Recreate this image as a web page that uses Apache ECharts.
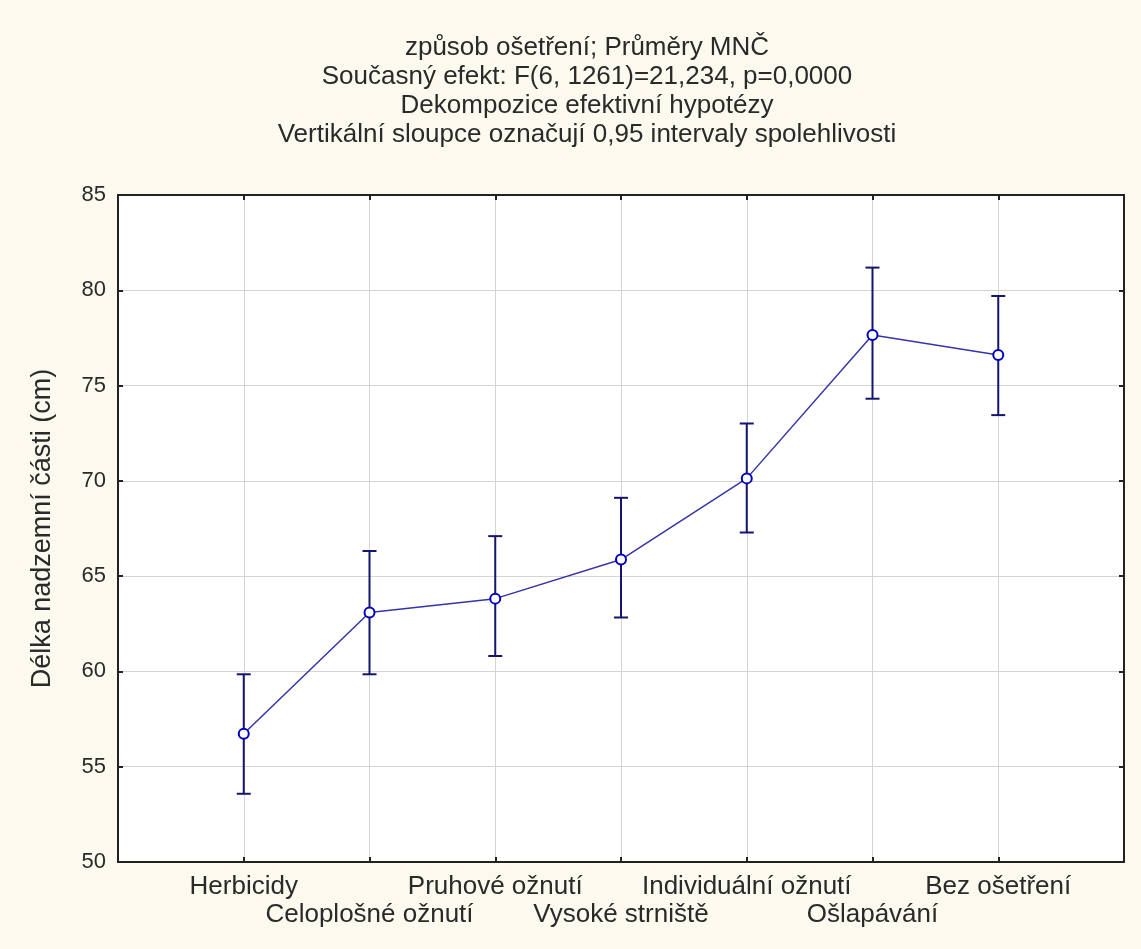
<!DOCTYPE html>
<html><head><meta charset="utf-8">
<script src="https://cdn.jsdelivr.net/npm/echarts@6/dist/echarts.min.js"></script>
<style>html,body{margin:0;padding:0;background:#fcf9ef;}#c{width:1141px;height:949px;}</style>
</head><body><div id="c"></div>
<script>
const categories = ['Herbicidy','Celoplošné ožnutí','Pruhové ožnutí','Vysoké strniště','Individuální ožnutí','Ošlapávání','Bez ošetření'];
const means = [56.73, 63.09, 63.82, 65.87, 70.13, 77.65, 76.60];
const ciLow = [53.58, 59.85, 60.81, 62.83, 67.29, 74.31, 73.45];
const ciHigh = [59.85, 66.32, 67.10, 69.11, 73.01, 81.19, 79.70];
const yTicks = [50, 55, 60, 65, 70, 75, 80, 85];
const titleLines = ['způsob ošetření; Průměry MNČ','Současný efekt: F(6, 1261)=21,234, p=0,0000','Dekompozice efektivní hypotézy','Vertikální sloupce označují 0,95 intervaly spolehlivosti'];
const yName = 'Délka nadzemní části (cm)';

const FONT = 'Liberation Sans, Arial, sans-serif';
const chart = echarts.init(document.getElementById('c'), null, {renderer:'canvas'});
// padded slots so the categories sit one step in from each frame edge
const slots = [''].concat(categories, ['']);
const pts = means.map((m,i)=>[i+1, m]);
const bars = means.map((m,i)=>[i+1, ciLow[i], ciHigh[i]]);
const axisLine = {show:true, onZero:false, lineStyle:{color:'#222', width:2}};
const tick = {show:true, inside:true, length:5, lineStyle:{color:'#222', width:2}};
chart.setOption({
  backgroundColor:'#fcf9ef',
  animation:false,
  title:{
    text: titleLines.join('\n'),
    left: 582, top: 28, textAlign:'center',
    textStyle:{fontFamily:FONT, fontSize:26, fontWeight:'normal', color:'#2a2a2a', lineHeight:29}
  },
  grid:{left:118, right:17, top:195, bottom:87, show:true, backgroundColor:'#fff', borderWidth:0, containLabel:false},
  xAxis:[{
    type:'category', data:slots, boundaryGap:false, position:'bottom',
    axisLine, axisTick:{...tick, interval:0},
    splitLine:{show:true, interval:0, lineStyle:{color:'#d4d4d4', width:1}},
    axisLabel:{
      interval:0, hideOverlap:false,
      fontFamily:FONT, fontSize:26, color:'#2a2a2a', margin:11, lineHeight:28,
      formatter:(v, idx)=>{const i=idx-1; if(i<0||i>=categories.length) return ''; return (i%2===0?'':'\n')+categories[i];}
    }
  },{
    type:'category', data:slots, boundaryGap:false, position:'top',
    axisLine, axisTick:{...tick, interval:0}, axisLabel:{show:false}, splitLine:{show:false}
  }],
  yAxis:[{
    type:'value', min:50, max:85, interval:5, position:'left',
    name:yName, nameLocation:'middle', nameGap:62, nameRotate:90,
    nameTextStyle:{fontFamily:FONT, fontSize:27, color:'#2a2a2a'},
    axisLine, axisTick:tick,
    splitLine:{show:true, lineStyle:{color:'#d4d4d4', width:1}},
    axisLabel:{fontFamily:FONT, fontSize:22, color:'#2a2a2a', margin:12, customValues:yTicks, showMinLabel:true, showMaxLabel:true}
  },{
    type:'value', min:50, max:85, interval:5, position:'right',
    axisLine, axisTick:tick, axisLabel:{show:false}, splitLine:{show:false}
  }],
  series:[{
    type:'custom',
    data:bars,
    z:3,
    renderItem:(params, api)=>{
      const x = api.value(0);
      const lo = api.coord([x, api.value(1)]);
      const hi = api.coord([x, api.value(2)]);
      const hw = 7;
      const st = {stroke:'#15156e', lineWidth:2};
      return {type:'group', children:[
        {type:'line', shape:{x1:lo[0], y1:lo[1], x2:hi[0], y2:hi[1]}, style:st},
        {type:'line', shape:{x1:lo[0]-hw, y1:lo[1], x2:lo[0]+hw, y2:lo[1]}, style:st},
        {type:'line', shape:{x1:hi[0]-hw, y1:hi[1], x2:hi[0]+hw, y2:hi[1]}, style:st}
      ]};
    }
  },{
    type:'line',
    data:pts,
    z:4,
    lineStyle:{color:'#3535a8', width:1.5},
    symbol:'circle', symbolSize:10,
    itemStyle:{color:'#fff', borderColor:'#0000c0', borderWidth:2}
  }]
});
</script></body></html>
